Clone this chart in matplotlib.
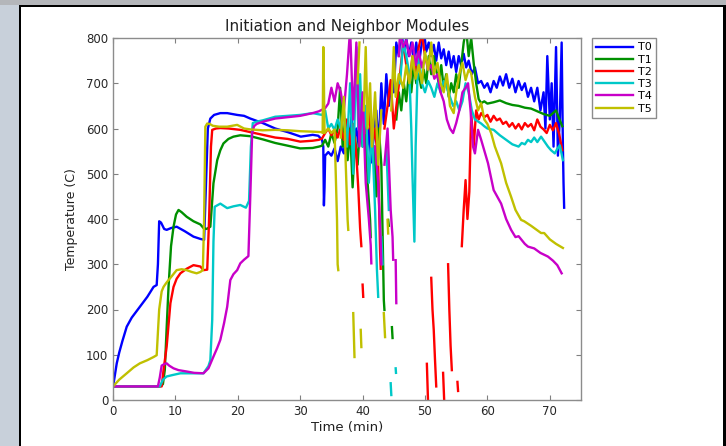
import matplotlib.pyplot as plt
import numpy as np
from matplotlib.patches import Rectangle

nan = np.nan

# thermocouple readings as (time [min], temperature [C]); nan = dropout
t0 = [(0, 29), (0.3, 55), (0.6, 81), (1, 105), (1.5, 130), (2.2, 162), (3, 182), (4.3, 206),
      (5.5, 228), (6.5, 250), (7.0, 254), (7.2, 300), (7.4, 395), (7.7, 392), (8.2, 378),
      (8.6, 376), (9.3, 380), (10.2, 383), (11.5, 373), (12.9, 361), (14.0, 356), (14.6, 354),
      (14.9, 480), (15.2, 600), (15.6, 622), (16.2, 630), (17.2, 634), (18.3, 634), (19.9, 630),
      (21, 628), (22, 622), (24, 612), (26, 600), (28, 592), (30.1, 582), (32, 586), (32.9, 584),
      (33.5, 575), (33.7, 560), (33.8, 430), (33.9, 470), (34.0, 540), (34.5, 548), (35, 540),
      (35.5, 556), (36, 528), (36.5, 560), (37, 545), (37.4, 610), (37.8, 560), (38.2, 625),
      (38.6, 570), (39, 600), (39.4, 560), (39.8, 650), (40.2, 590), (40.6, 530), (41, 600),
      (41.4, 525), (41.8, 585), (42.2, 640), (42.6, 560), (43, 700), (43.4, 610), (43.8, 720),
      (44.2, 650), (44.6, 700), (45, 680), (45.4, 790), (45.8, 760), (46.2, 820), (46.6, 770),
      (47, 800), (47.4, 760), (47.8, 790), (48.2, 750), (48.6, 790), (49, 740), (49.4, 780),
      (49.8, 820), (50.2, 770), (50.6, 790), (51, 760), (51.4, 785), (51.8, 750), (52.2, 790),
      (52.6, 755), (53, 775), (53.4, 740), (53.8, 770), (54.2, 735), (54.6, 760), (55, 725),
      (55.4, 760), (55.8, 740), (56.2, 765), (56.6, 735), (57, 750), (57.5, 720), (58, 735),
      (58.5, 700), (59, 705), (59.5, 690), (60, 700), (60.5, 680), (61, 705), (61.5, 690),
      (62, 715), (62.5, 695), (63, 720), (63.5, 690), (64, 710), (64.5, 680), (65, 705),
      (65.5, 685), (66, 700), (66.5, 670), (67, 690), (67.5, 660), (68, 690), (68.5, 640),
      (69, 680), (69.3, 600), (69.6, 760), (70, 620), (70.3, 700), (70.6, 560), (71, 780),
      (71.3, 540), (71.6, 620), (71.9, 790), (72.1, 560), (72.2, 480), (72.3, 425)]

t1 = [(0, 30), (7.5, 30), (8.0, 35), (8.3, 66), (8.6, 160), (8.9, 250), (9.3, 340), (9.7, 383),
      (10.1, 410), (10.5, 420), (11.0, 415), (11.8, 405), (12.9, 395), (14.0, 388), (14.5, 380),
      (15.0, 378), (15.6, 383), (16.1, 479), (16.7, 530), (17.2, 552), (17.7, 567), (18.5, 577),
      (19.3, 582), (20.4, 585), (22, 583), (24, 576), (26, 568), (28, 562), (30, 556), (32, 557),
      (33, 560), (33.5, 562), (34, 575), (34.5, 560), (35, 590), (35.5, 568), (36, 600),
      (36.4, 690), (36.8, 560), (37.2, 620), (37.6, 530), (38, 600), (38.4, 470), (38.8, 580),
      (39.2, 520), (39.6, 610), (40, 560), (40.4, 640), (40.8, 480), (41.2, 398), (41.3, 360),
      (41.4, nan), (41.8, 560), (42.2, 450), (42.6, 600), (43, 520), (43.4, 221), (43.5, 199),
      (43.6, nan), (44.1, 398), (44.2, 385), (44.3, nan), (44.7, 161), (44.8, 137), (44.9, nan),
      (45.4, 620), (45.8, 680), (46.2, 640), (46.6, 700), (47, 660), (47.4, 720), (47.8, 680),
      (48.2, 740), (48.6, 700), (49, 720), (49.4, 690), (49.8, 730), (50.2, 700), (50.6, 760),
      (51, 720), (51.4, 760), (51.8, 730), (52.2, 700), (52.6, 740), (53, 690), (53.4, 720),
      (53.8, 670), (54.2, 700), (54.6, 680), (55, 720), (55.4, 690), (55.8, 740), (56.2, 790),
      (56.6, 820), (57, 760), (57.4, 800), (57.8, 745), (58.2, 700), (58.6, 665), (59, 656),
      (59.5, 660), (60, 655), (61, 658), (62, 662), (63, 656), (64, 652), (65, 650), (66, 646),
      (67, 644), (67.5, 641), (68, 638), (69, 632), (70, 628), (70.5, 634), (71, 640),
      (71.5, 622), (72, 605)]

t2 = [(0, 30), (7.8, 30), (8.1, 66), (8.6, 118), (9.2, 214), (9.7, 250), (10.2, 268), (10.8, 280),
      (11.8, 290), (12.9, 298), (14.0, 295), (14.5, 287), (15.1, 288), (15.4, 400), (15.7, 560),
      (15.9, 597), (16.5, 600), (17.2, 601), (18.5, 600), (20.4, 597), (22, 592), (24, 586),
      (26, 580), (28, 577), (30, 571), (32, 573), (33, 575), (33.5, 578), (34, 590), (34.5, 600),
      (35, 585), (35.5, 596), (36, 580), (36.5, 602), (37, 575), (37.5, 620), (38, 565),
      (38.5, 610), (39, 540), (39.3, 470), (39.6, 380), (39.8, 340), (39.9, nan), (40.0, 255),
      (40.1, 228), (40.2, nan), (40.5, 590), (41, 640), (41.5, 560), (42, 600), (42.5, 520),
      (42.8, 330), (42.9, 290), (43.0, nan), (43.5, 600), (44, 650), (44.5, 707), (45, 600),
      (45.5, 660), (46, 720), (46.5, 790), (47, 740), (47.5, 700), (48, 760), (48.5, 720),
      (49, 780), (49.5, 810), (50, 760), (50.2, nan), (50.3, 80), (50.5, -10), (50.6, nan),
      (51.0, 270), (51.2, 200), (51.4, 155), (51.6, 90), (51.8, 30), (51.9, nan), (52.9, 60),
      (53.1, -10), (53.2, nan), (53.7, 300), (53.9, 200), (54.1, 120), (54.3, 66), (54.4, nan),
      (55.2, 40), (55.3, 20), (55.4, nan), (55.9, 340), (56.2, 420), (56.5, 486), (56.8, 400),
      (57.1, 460), (57.4, 634), (57.8, 560), (58.2, 640), (58.6, 620), (59, 634), (59.5, 625),
      (60, 630), (60.5, 615), (61, 628), (61.5, 618), (62, 622), (62.5, 610), (63, 615),
      (63.5, 604), (64, 612), (64.5, 600), (65, 610), (65.5, 598), (66, 612), (66.5, 604),
      (67, 610), (67.5, 596), (68, 620), (68.5, 604), (69, 598), (69.5, 590), (70, 608),
      (70.5, 596), (71, 612), (71.5, 588), (72, 552)]

t3 = [(0, 30), (7.5, 30), (8.0, 45), (8.6, 52), (9.5, 55), (10.8, 59), (12.5, 59), (14.5, 59),
      (15.3, 75), (15.6, 88), (15.9, 177), (16.1, 350), (16.3, 427), (17.2, 434), (18.3, 424),
      (19.3, 428), (20.4, 431), (21.3, 425), (21.8, 440), (22.1, 560), (22.4, 612), (23, 615),
      (24, 618), (26, 626), (28, 628), (30, 630), (32, 634), (33.5, 630), (34, 640), (34.5, 600),
      (35, 610), (35.5, 597), (36, 620), (36.5, 600), (37, 640), (37.5, 560), (38, 700),
      (38.5, 500), (39, 780), (39.3, 600), (39.6, 720), (40, 560), (40.5, 650), (41, 480),
      (41.5, 600), (42, 420), (42.3, 287), (42.5, 228), (42.6, nan), (43, 360), (43.2, 300),
      (43.3, nan), (43.8, 560), (44.2, 420), (44.3, nan), (44.5, 37), (44.6, 11), (44.7, nan),
      (45.3, 70), (45.35, 60), (45.4, nan), (46, 700), (46.5, 790), (47, 760), (47.5, 720),
      (47.8, 600), (48, 493), (48.3, 350), (48.5, 560), (48.8, 720), (49, 760), (49.5, 700),
      (50, 680), (50.5, 705), (51, 690), (51.5, 670), (52, 700), (52.5, 680), (53, 705),
      (53.5, 690), (54, 670), (54.5, 650), (55, 660), (55.5, 640), (56, 660), (56.5, 700),
      (57, 680), (57.5, 640), (58, 620), (59, 611), (59.5, 605), (60, 600), (61, 597), (62, 585),
      (63, 575), (64, 565), (65, 560), (65.5, 568), (66, 565), (66.5, 575), (67, 570),
      (67.5, 580), (68, 570), (68.6, 582), (69.2, 570), (69.7, 560), (70.2, 552), (70.8, 545),
      (71.2, 555), (71.6, 563), (72.1, 530)]

t4 = [(0, 30), (7.2, 30), (7.5, 50), (7.8, 76), (8.3, 80), (8.6, 81), (9.0, 76), (9.7, 70),
      (10.5, 66), (11.8, 63), (13, 60), (14.5, 59), (15.3, 70), (16.1, 96), (16.7, 115),
      (17.2, 133), (17.8, 170), (18.3, 206), (18.8, 265), (19.3, 278), (19.9, 287), (20.4, 302),
      (21, 310), (21.7, 318), (22.0, 450), (22.3, 590), (22.6, 605), (23, 610), (24, 615),
      (26, 622), (28, 625), (30, 628), (32, 634), (33, 638), (34, 645), (34.5, 655), (35, 690),
      (35.5, 660), (36, 700), (36.5, 680), (37, 640), (37.5, 720), (38, 820), (38.5, 620),
      (39, 790), (39.5, 560), (40, 680), (40.5, 480), (41, 400), (41.3, 342), (41.4, 302),
      (41.5, nan), (42, 560), (42.5, 480), (42.9, 350), (43.0, 300), (43.1, nan), (43.5, 520),
      (44, 600), (44.5, 420), (44.8, 360), (44.9, 310), (45.0, nan), (45.3, 309), (45.4, 214),
      (45.5, nan), (45.8, 760), (46, 810), (46.5, 780), (47, 795), (47.5, 760), (48, 790),
      (48.5, 740), (49, 770), (49.5, 735), (50, 760), (50.5, 730), (51, 740), (51.5, 710),
      (52, 720), (52.5, 680), (53, 660), (53.5, 620), (54, 600), (54.5, 590), (55, 612),
      (55.5, 640), (56, 680), (56.5, 690), (56.9, 700), (57.3, 640), (57.7, 560), (58, 545),
      (58.5, 597), (59, 575), (60.1, 523), (61, 464), (62.2, 434), (63, 400), (63.8, 376),
      (64.5, 360), (65, 362), (66, 345), (66.5, 339), (67.5, 335), (68.5, 325), (69.7, 317),
      (70.5, 308), (71.2, 298), (71.9, 280)]

t5 = [(0, 30), (1, 45), (2.2, 59), (3.3, 72), (4.3, 81), (5.5, 88), (6.5, 95), (7.0, 99),
      (7.2, 150), (7.4, 200), (7.8, 240), (8.1, 250), (8.5, 258), (8.9, 265), (9.5, 275),
      (10.2, 287), (11, 289), (11.8, 287), (12.6, 283), (13.4, 280), (14.0, 283), (14.4, 287),
      (14.6, 400), (14.8, 604), (15.1, 611), (15.5, 610), (16, 606), (17, 604), (18.3, 604),
      (19.9, 608), (21, 600), (22, 598), (24, 596), (26, 597), (28, 596), (30, 594), (32, 593),
      (33.5, 592), (33.6, 590), (33.7, 780), (33.8, 700), (33.9, 590), (34.5, 600), (35, 590),
      (35.5, 598), (35.9, 398), (36.0, 300), (36.1, 287), (36.2, nan), (36.5, 580), (37, 670),
      (37.3, 520), (37.6, 398), (37.7, 376), (37.8, nan), (38.5, 192), (38.7, 95), (38.8, nan),
      (39.2, 700), (39.5, 790), (39.6, nan), (39.7, 155), (39.8, 117), (39.9, nan), (40.2, 640),
      (40.5, 780), (40.8, 600), (41.2, 700), (41.5, 560), (42, 680), (42.5, 520), (43, 640),
      (43.1, nan), (43.4, 192), (43.6, 139), (43.7, nan), (44, 398), (44.1, 368), (44.2, nan),
      (44.6, 640), (45, 780), (45.3, 670), (45.8, 720), (46.5, 690), (47, 740), (47.5, 700),
      (48, 760), (48.5, 710), (49, 740), (49.5, 700), (50, 770), (50.5, 730), (51, 790),
      (51.4, 720), (52, 745), (52.5, 700), (53, 680), (53.5, 720), (54, 650), (54.6, 634),
      (55, 680), (55.5, 720), (56, 745), (56.5, 707), (57, 730), (57.4, 722), (58, 670),
      (58.5, 640), (59, 656), (59.5, 620), (60, 610), (60.6, 590), (61.2, 560), (62.2, 523),
      (63, 480), (63.8, 449), (64.5, 420), (65.4, 398), (65.9, 395), (67, 385), (68, 375),
      (68.6, 369), (69.1, 369), (70, 355), (71, 345), (72.1, 336)]

series = [t0, t1, t2, t3, t4, t5]
labels = ["T0", "T1", "T2", "T3", "T4", "T5"]
colors = ["#0000ff", "#009000", "#ff0000", "#00c8c8", "#c800c8", "#c0c000"]

W, H = 726, 446
f = plt.figure(figsize=(W / 100, H / 100), dpi=100)

# window frame around the figure
f.add_artist(Rectangle((0, 0), 19 / W, 1, transform=f.transFigure, fc="#c8d0da", ec="none"))
f.add_artist(Rectangle((0, 1 - 5 / H), 1, 5 / H, transform=f.transFigure, fc="#b4b6ba", ec="none"))
f.add_artist(Rectangle((19 / W, 0), 2 / W, 1 - 5 / H, transform=f.transFigure, fc="black", ec="none"))
f.add_artist(Rectangle((19 / W, 1 - 7 / H), 1, 2 / H, transform=f.transFigure, fc="black", ec="none"))
f.add_artist(Rectangle((723 / W, 0), 3 / W, 1 - 5 / H, transform=f.transFigure, fc="black", ec="none"))

ax = f.add_axes([113 / W, 1 - 400 / H, 468 / W, 362 / H])

for data, c, lab in zip(series, colors, labels):
    d = np.array(data, dtype=float)
    ax.plot(d[:, 0], d[:, 1], color=c, lw=1.7, label=lab)

ax.set_xlim(0, 75)
ax.set_ylim(0, 800)
ax.set_xticks(np.arange(0, 80, 10))
ax.set_yticks(np.arange(0, 900, 100))
ax.tick_params(direction="in", top=True, right=True, length=3.5, width=0.8,
               color="#808080", labelsize=8.5, labelcolor="#262626")
for s in ax.spines.values():
    s.set_color("#8c8c8c")
    s.set_linewidth(1.0)

ax.set_title("Initiation and Neighbor Modules", fontsize=11, color="#202020", pad=5)
ax.set_xlabel("Time (min)", fontsize=9.5, color="#202020", labelpad=2)
ax.set_ylabel("Temperature (C)", fontsize=9, color="#202020", labelpad=6)

f.legend(loc="upper left", bbox_to_anchor=(592 / W, 1 - 38 / H), bbox_transform=f.transFigure,
         fontsize=8, handlelength=3.3, handletextpad=0.45, labelspacing=0.2, borderpad=0.4,
         borderaxespad=0, fancybox=False, edgecolor="#8c8c8c", framealpha=1)

f.savefig("out.png", dpi=100)
